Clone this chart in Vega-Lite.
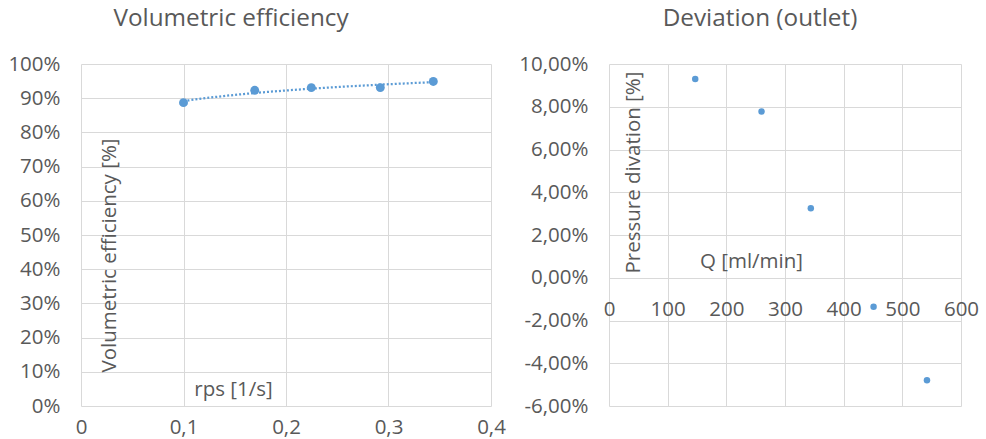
{
  "$schema": "https://vega.github.io/schema/vega-lite/v6.json",
  "background": "white",
  "padding": {"left": 7, "top": 6, "right": 5, "bottom": 5},
  "bounds": "flush",
  "spacing": 118,
  "config": {
    "locale": {"number": {"decimal": ",", "thousands": ".", "grouping": [3], "currency": ["", " €"], "minus": "-"}},
    "font": "Open Sans",
    "view": {"stroke": null},
    "axis": {"labelFont": "Open Sans", "labelFontSize": 20.5, "labelColor": "#595959", "titleFont": "Open Sans", "titleFontSize": 20.5, "titleFontWeight": "normal", "titleColor": "#595959", "gridColor": "#d9d9d9", "gridWidth": 1, "domain": false, "ticks": false, "tickSize": 0, "labelFlush": false, "labelOverlap": false},
    "title": {"font": "Open Sans", "fontSize": 24.3, "fontWeight": "normal", "color": "#595959"}
  },
  "hconcat": [
    {
      "width": 410,
      "height": 342,
      "title": {"text": "Volumetric efficiency", "anchor": "middle", "frame": "group", "dx": -55, "dy": 3, "baseline": "alphabetic", "offset": 7},
      "data": {"values": [
        {"rps": 0.1, "eff": 0.887},
        {"rps": 0.1695, "eff": 0.923},
        {"rps": 0.2247, "eff": 0.931},
        {"rps": 0.292, "eff": 0.931},
        {"rps": 0.3437, "eff": 0.949}
      ]},
      "encoding": {
        "x": {"field": "rps", "type": "quantitative", "scale": {"domain": [0, 0.4], "nice": false, "zero": false},
          "axis": {"title": "rps [1/s]", "values": [0, 0.1, 0.2, 0.3, 0.4], "format": ".1~f", "labelPadding": 11, "titleX": 152, "titleY": -17, "titleBaseline": "middle", "titleAlign": "center"}},
        "y": {"field": "eff", "type": "quantitative", "scale": {"domain": [0, 1], "nice": false},
          "axis": {"title": "Volumetric efficiency [%]", "values": [0, 0.1, 0.2, 0.3, 0.4, 0.5, 0.6, 0.7, 0.8, 0.9, 1], "format": ".0%", "labelPadding": 21, "titleX": 28, "titleY": 191, "titleBaseline": "middle", "titleAlign": "center", "titleAngle": -90}}
      },
      "layer": [
        {
          "transform": [{"regression": "eff", "on": "rps", "method": "log"}],
          "mark": {"type": "line", "color": "#5B9BD5", "strokeWidth": 2.25, "strokeDash": [2, 2]}
        },
        {
          "mark": {"type": "circle", "color": "#5B9BD5", "opacity": 1, "size": 80}
        }
      ]
    },
    {
      "width": 352,
      "height": 342,
      "title": {"text": "Deviation (outlet)", "anchor": "middle", "frame": "group", "dx": -25, "dy": 3, "baseline": "alphabetic", "offset": 7},
      "data": {"values": [
        {"Q": 147, "dev": 0.093},
        {"Q": 260, "dev": 0.0778},
        {"Q": 344, "dev": 0.0325},
        {"Q": 451, "dev": -0.0136},
        {"Q": 542, "dev": -0.0479}
      ]},
      "mark": {"type": "circle", "color": "#5B9BD5", "opacity": 1, "size": 42},
      "encoding": {
        "x": {"field": "Q", "type": "quantitative", "scale": {"domain": [0, 600], "nice": false},
          "axis": {"title": "Q [ml/min]", "values": [0, 100, 200, 300, 400, 500, 600], "format": "d", "labelPadding": -107, "titleX": 142, "titleY": -145, "titleBaseline": "middle", "titleAlign": "center"}},
        "y": {"field": "dev", "type": "quantitative", "scale": {"domain": [-0.06, 0.1], "nice": false},
          "axis": {"title": "Pressure divation [%]", "values": [-0.06, -0.04, -0.02, 0, 0.02, 0.04, 0.06, 0.08, 0.1], "format": ".2%", "labelPadding": 21, "titleX": 24, "titleY": 108, "titleBaseline": "middle", "titleAlign": "center", "titleAngle": -90}}
      }
    }
  ]
}
